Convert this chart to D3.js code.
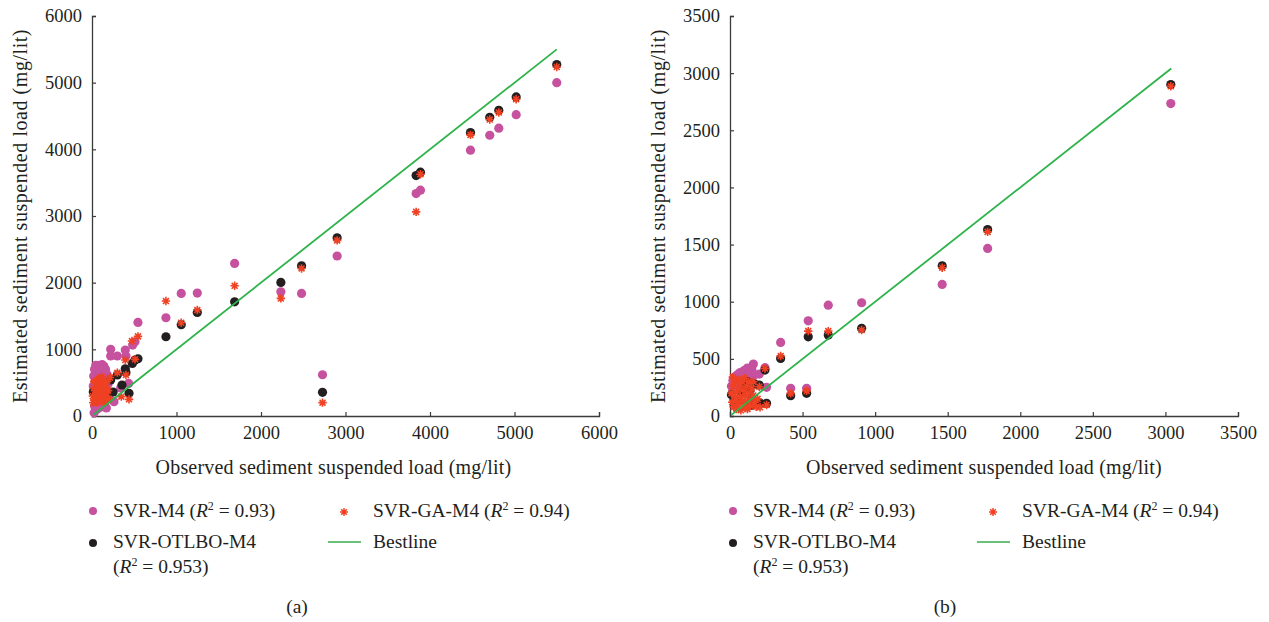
<!DOCTYPE html>
<html>
<head>
<meta charset="utf-8">
<script src="https://cdn.jsdelivr.net/npm/d3@7"></script>
<style>
  body { margin: 0; background: #fff; }
  text { font-family: "Liberation Serif", "DejaVu Serif", serif; fill: #231f20; }
</style>
</head>
<body>
<div id="chart"></div>
<script>
// ---- data: [observed, estimated] pairs ----

// panel (a)
var svrA = [[5500,5000],[5020,4520],[4814,4317],[4707,4211],[4479,3987],[3887,3387],[3836,3337],[2901,2400],[2728,619],
  [2480,1839],[2235,1864],[1688,2288],[1246,1844],[1056,1839],[875,1474],[544,1404],[509,1114],[481,1064],[394,989],
  [402,900],[434,489],[339,420],[300,900],[221,1000],[221,900],[260,215],
  [20,600],[30,700],[45,760],[60,720],[80,760],[100,740],[120,770],[140,750],[160,700],[180,620],[150,560],[40,520],
  [70,480],[110,520],[130,440],[20,380],[50,300],[90,260],[120,200],[150,160],[30,150],[60,100],[100,130],[170,120],
  [25,50],[45,220],[80,620],[190,480],[15,450],[200,300],[110,660],[170,400]]
var otlboA = [[5500,5271],[5020,4786],[4814,4586],[4707,4481],[4479,4252],[3887,3657],[3836,3607],[2901,2673],[2728,355],
  [2480,2253],[2235,2004],[1688,1713],[1246,1554],[1056,1369],[875,1189],[544,859],[509,839],[478,789],[394,709],
  [402,654],[438,340],[355,465],[300,615],[221,540],[15,360],[250,360],[120,400],[60,300],[180,330],[90,450]]
var gaA = [[5500,5235],[5020,4751],[4814,4552],[4707,4447],[4479,4217],[3887,3627],[3836,3062],[2901,2634],[2728,200],
  [2480,2213],[2235,1764],[1688,1953],[1246,1589],[1056,1399],[875,1724],[544,1194],[473,1124],[509,850],[394,839],
  [402,614],[438,250],[347,290],[300,650],[213,577],[115,590],
  [10,300],[20,420],[30,250],[40,380],[50,500],[60,330],[70,220],[80,450],[90,560],[100,300],[110,400],[120,250],
  [130,480],[140,350],[150,200],[160,420],[170,300],[180,520],[190,380],[200,260],[25,520],[55,200],[85,380],[105,480],
  [135,300],[165,260],[45,300],[75,560],[95,230],[125,360],[155,500],[185,240],[15,200],[65,420],[115,310],[145,450]]
var bestA = [[15,15],[5500,5500]]
var ticksA = [0,1000,2000,3000,4000,5000,6000]

// panel (b)
var svrB = [[3037,2734],[1775,1466],[1462,1151],[907,991],[677,970],[539,833],[349,644],[528,242],[418,242],[241,423],
  [252,251],[202,367],[161,455],
  [10,260],[20,310],[30,340],[40,330],[50,360],[60,340],[70,380],[80,360],[90,390],[100,400],[110,380],[120,420],
  [130,400],[140,370],[150,410],[30,290],[50,310],[70,320],[90,340],[110,340],[130,350],[60,300],[40,270],[100,310],
  [150,340],[170,360]]
var otlboB = [[3037,2900],[1775,1632],[1462,1314],[907,767],[677,708],[539,693],[349,504],[528,198],[418,178],[241,402],
  [252,111],[202,271],[207,113],[138,222],[10,187],[170,280],[150,150],[120,300],[80,200],[30,120],[100,250],[60,140],
  [180,110],[140,90]]
var gaB = [[3037,2885],[1775,1611],[1462,1297],[907,752],[677,743],[539,743],[349,525],[528,220],[418,198],[241,415],
  [252,96],[202,256],[207,76],
  [10,200],[15,120],[20,260],[25,80],[30,180],[35,300],[40,140],[45,60],[50,220],[55,320],[60,100],[65,260],[70,170],
  [75,50],[80,300],[85,130],[90,230],[95,80],[100,330],[105,180],[110,120],[115,260],[120,60],[125,200],[130,300],
  [135,140],[140,90],[150,240],[160,180],[170,120],[180,80],[190,150],[160,300],[20,340]]
var bestB = [[10,10],[3040,3040]]
var ticksB = [0,500,1000,1500,2000,2500,3000,3500]

var colPink = "#c5519f", colBlack = "#231f20", colRed = "#ef4123", colGreen = "#2db34a", colAxis = "#3b3b3b"

var svg = d3.select("#chart").append("svg")
    .attr("width", 1269)
    .attr("height", 622)

// 8 armed asterisk used for the GA series
function star(r) {
  var p = ""
  for (var i = 0; i < 4; i++) {
    var a = i * Math.PI / 4
    p += "M" + (-r*Math.cos(a)) + "," + (-r*Math.sin(a)) + "L" + (r*Math.cos(a)) + "," + (r*Math.sin(a))
  }
  return p
}

function r2(sel, val) {
  sel.append("tspan").text("(")
  sel.append("tspan").attr("font-style", "italic").text("R")
  sel.append("tspan").attr("font-size", "12px").attr("dy", -7).text("2")
  sel.append("tspan").attr("dy", 7).text(" = " + val + ")")
}

function panel(o) {
  var g = svg.append("g")
  var x = d3.scaleLinear().domain([0, o.max]).range([o.left, o.right])
  var y = d3.scaleLinear().domain([0, o.max]).range([416, 16])

  // axes, ticks point inward
  g.append("g").attr("transform", "translate(0,416)")
    .call(d3.axisBottom(x).tickValues(o.ticks).tickSize(-4).tickPadding(10).tickFormat(d3.format("d")))
  g.append("g").attr("transform", "translate(" + o.left + ",0)")
    .call(d3.axisLeft(y).tickValues(o.ticks).tickSize(-4).tickPadding(10).tickFormat(d3.format("d")))
  g.selectAll(".domain").attr("stroke", colAxis).attr("stroke-width", 1.3)
  g.selectAll(".tick line").attr("stroke", colAxis).attr("stroke-width", 1.2)
  g.selectAll(".tick text").style("font-family", "Liberation Serif").style("font-size", "18.5px").attr("fill", "#231f20")

  g.append("g").selectAll("circle").data(o.svr).enter().append("circle")
    .attr("cx", function(d){ return x(d[0]) }).attr("cy", function(d){ return y(d[1]) })
    .attr("r", 4.6).attr("fill", colPink)
  g.append("g").selectAll("circle").data(o.otlbo).enter().append("circle")
    .attr("cx", function(d){ return x(d[0]) }).attr("cy", function(d){ return y(d[1]) })
    .attr("r", 4.6).attr("fill", colBlack)
  g.append("g").selectAll("path").data(o.ga).enter().append("path")
    .attr("d", star(4.2))
    .attr("transform", function(d){ return "translate(" + x(d[0]) + "," + y(d[1]) + ")" })
    .attr("stroke", colRed).attr("stroke-width", 1.6).attr("fill", "none")

  g.append("path").datum(o.best)
    .attr("d", d3.line().x(function(d){ return x(d[0]) }).y(function(d){ return y(d[1]) }))
    .attr("stroke", colGreen).attr("stroke-width", 1.8).attr("fill", "none")

  // axis titles
  g.append("text").attr("x", (o.left + o.right) / 2 + o.titleDx).attr("y", 474)
    .attr("text-anchor", "middle").style("font-size", "20px").style("letter-spacing", "0.2px")
    .text("Observed sediment suspended load (mg/lit)")
  g.append("text").attr("transform", "translate(" + (o.left - 65) + ",216) rotate(-90)")
    .attr("text-anchor", "middle").style("font-size", "20px").style("letter-spacing", "0.55px")
    .text("Estimated sediment suspended load (mg/lit)")

  // legend
  var lx = o.legendX, lx2 = o.legendX2
  var fs = "19.5px"
  g.append("circle").attr("cx", lx).attr("cy", 511).attr("r", 4).attr("fill", colPink)
  var t1 = g.append("text").attr("x", lx + 20).attr("y", 517).style("font-size", fs)
  t1.append("tspan").text("SVR-M4 ")
  r2(t1, "0.93")
  g.append("path").attr("d", star(4)).attr("transform", "translate(" + lx2 + ",512)")
    .attr("stroke", colRed).attr("stroke-width", 1.5).attr("fill", "none")
  var t2 = g.append("text").attr("x", lx2 + 29).attr("y", 517).style("font-size", fs)
  t2.append("tspan").text("SVR-GA-M4 ")
  r2(t2, "0.94")
  g.append("circle").attr("cx", lx).attr("cy", 543).attr("r", 4).attr("fill", colBlack)
  g.append("text").attr("x", lx + 20).attr("y", 548).style("font-size", fs).text("SVR-OTLBO-M4")
  var t3 = g.append("text").attr("x", lx + 20).attr("y", 573).style("font-size", fs)
  r2(t3, "0.953")
  g.append("line").attr("x1", lx2 - 16).attr("x2", lx2 + 17).attr("y1", 542).attr("y2", 542)
    .attr("stroke", "#6cc17a").attr("stroke-width", 1.8)
  g.append("text").attr("x", lx2 + 29).attr("y", 548).style("font-size", fs).text("Bestline")

  g.append("text").attr("x", o.labelX).attr("y", 613).attr("text-anchor", "middle")
    .style("font-size", fs).text(o.label)
}

panel({ max: 6000, ticks: ticksA, left: 92, right: 599, svr: svrA, otlbo: otlboA, ga: gaA, best: bestA,
        legendX: 93, legendX2: 344, labelX: 297, label: "(a)", titleDx: -12 })
panel({ max: 3500, ticks: ticksB, left: 730, right: 1238, svr: svrB, otlbo: otlboB, ga: gaB, best: bestB,
        legendX: 733, legendX2: 993, labelX: 945, label: "(b)", titleDx: 0 })
</script>
</body>
</html>
